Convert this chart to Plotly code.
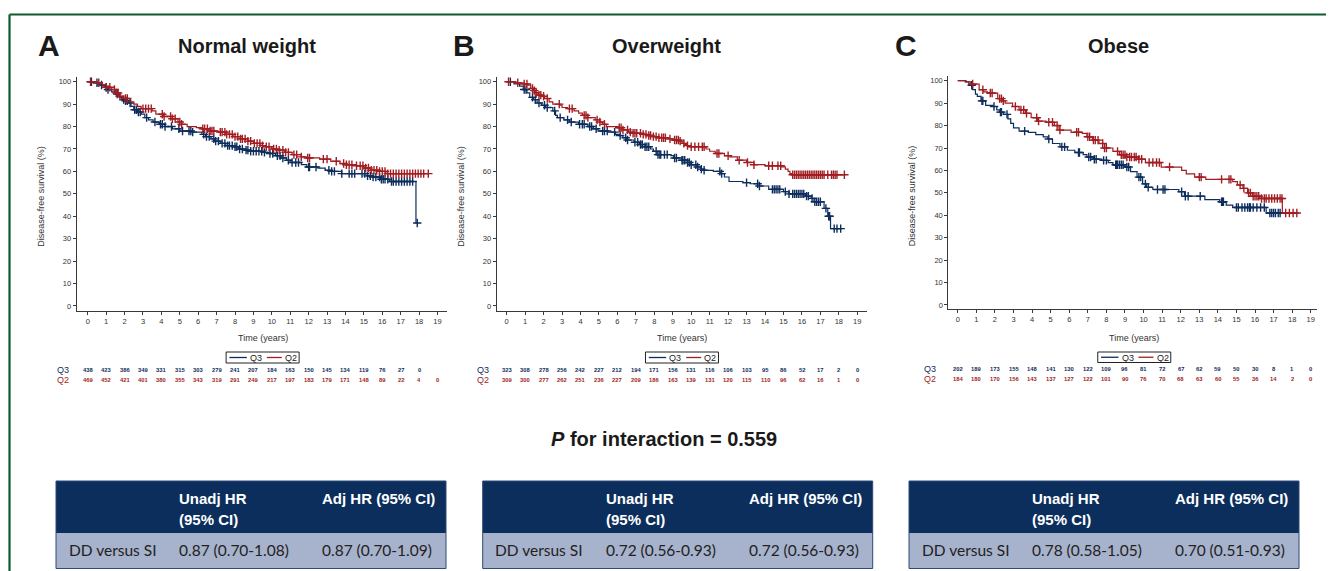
import plotly.graph_objects as go
import numpy as np

# page offset: the browser body has an 8px margin
OFF = 8
W, H = 1334 - OFF, 571 - OFF

# ---------------- DATA ----------------
years = list(range(0, 20))
panel_letters = ["A", "B", "C"]
panel_titles = ["Normal weight", "Overweight", "Obese"]
group_names = ["Q3", "Q2"]

# Panel A (Normal weight) - Kaplan-Meier step breakpoints
a_q3_t = [0, 0.3, 0.6, 0.9, 1.1, 1.3, 1.5, 1.7, 1.85, 2.0, 2.2, 2.35, 2.5, 2.7, 2.9, 3.1, 3.3, 3.55, 3.9, 4.2, 4.6, 5.0,
          5.7, 6.2, 6.4, 6.7, 6.9, 7.2, 7.5, 7.9, 8.2, 8.5, 8.8, 9.5, 9.9, 10.2, 10.5, 10.8, 11.0, 11.6, 11.9, 12.5,
          12.9, 13.2, 13.8, 15.2, 15.5, 15.9, 16.4, 17.83]
a_q3_s = [100, 99.5, 98.5, 97.5, 96.5, 95.5, 94.5, 93, 92, 91.5, 90.5, 89, 87.5, 86.5, 85.5, 84, 83, 82, 81, 80, 79, 78,
          77.5, 76.5, 75.5, 74.5, 73.5, 72.5, 71.5, 71, 70, 69.5, 69, 68.5, 68, 67, 66, 65, 64, 63, 62, 61.5,
          60.5, 60, 59, 58, 57.5, 56.5, 55.5, 37]
a_q3_end = 17.95
a_q3_cens = [0.2, 0.5, 0.75, 1.0, 1.1, 1.6, 1.95, 2.05, 2.15, 2.3, 2.55, 2.65, 2.75, 2.85, 3.2, 3.65, 3.95, 4.05, 4.2,
             4.55, 4.95, 5.15, 5.5, 5.6, 5.7, 6.3, 6.45, 6.6, 6.85, 6.95, 7.1, 7.3, 7.45, 7.6, 7.7, 7.85, 8.0, 8.1,
             8.25, 8.4, 8.6, 8.7, 8.85, 9.0, 9.15, 9.3, 9.45, 9.6, 9.9, 10.05, 10.3, 10.45, 10.6, 10.9, 11.1, 11.3,
             11.45, 12.0, 12.05, 12.4, 13.1, 13.25, 13.4, 13.8, 14.2, 14.35, 14.5, 14.9, 15.05, 15.2, 15.35, 15.5,
             15.65, 15.85, 15.95, 16.05, 16.15, 16.3, 16.5, 16.6, 16.75, 16.9, 17.05, 17.2, 17.35, 17.5, 17.65, 17.9]

a_q2_t = [0, 0.5, 0.8, 1.0, 1.3, 1.5, 1.7, 1.9, 2.3, 2.5, 2.7, 2.9, 3.5, 3.7, 4.1, 4.6, 4.9, 5.1, 5.4, 5.9, 6.2, 6.6,
          7.1, 7.5, 7.9, 8.3, 8.7, 9.0, 9.4, 9.7, 10.0, 10.3, 10.7, 11.1, 11.6, 11.9, 12.6, 13.2, 13.7, 14.0, 14.6,
          15.0, 15.4, 15.8, 16.2]
a_q2_s = [100, 99.5, 98.5, 97.5, 96.5, 95, 93.5, 92.5, 91, 90, 89, 88, 87, 85.5, 84.5, 83.5, 82, 81, 80, 79.5, 79, 78,
          77.5, 76.5, 75.5, 74.5, 73.5, 72.5, 71.5, 71, 70, 69.5, 68.5, 67.5, 66.5, 66, 65.5, 64.5, 63.5, 63, 62.5,
          61.5, 60.5, 60, 59]
a_q2_end = 18.55
a_q2_cens = [0.15, 0.6, 1.0, 1.2, 1.45, 1.55, 1.65, 1.75, 2.05, 2.15, 3.0, 3.15, 3.3, 3.45, 4.05, 4.15, 4.5, 4.6, 4.75,
             5.0, 5.1, 6.25, 6.35, 6.5, 6.65, 6.75, 6.85, 7.2, 7.3, 7.45, 7.55, 7.7, 7.85, 8.0, 8.15, 8.3, 8.4, 8.55,
             8.7, 8.85, 9.05, 9.2, 9.35, 9.5, 9.7, 9.85, 10.1, 10.25, 10.4, 10.6, 10.75, 10.9, 11.2, 11.35, 11.6,
             11.95, 12.05, 12.8, 13.0, 13.5, 13.9, 14.05, 14.2, 14.35, 14.6, 14.8, 14.95, 15.1, 15.25, 15.4, 15.55,
             15.7, 15.85, 16.0, 16.15, 16.3, 16.45, 16.6, 16.75, 16.9, 17.05, 17.2, 17.35, 17.5, 17.65, 17.8, 17.95,
             18.1, 18.25, 18.5]

# Panel B (Overweight)
b_q3_t = [0, 0.4, 0.7, 0.9, 1.1, 1.25, 1.45, 1.65, 1.9, 2.1, 2.5, 2.65, 2.75, 3.1, 3.4, 3.9, 4.4, 4.7, 4.95, 5.5, 5.9,
          6.1, 6.3, 6.5, 6.9, 7.2, 7.5, 7.8, 7.95, 8.15, 8.9, 9.05, 9.5, 9.8, 10.0, 10.3, 10.5, 10.7, 11.2, 11.6,
          11.8, 12.05, 12.8, 13.2, 13.7, 14.2, 15.0, 15.3, 16.2, 16.5, 16.65, 17.2, 17.4, 17.55]
b_q3_s = [100, 99, 98, 96.5, 95, 93, 92, 90.5, 89.5, 88.5, 87, 85, 84, 83, 82, 81, 80, 79, 78, 77.5, 76.5,
          76, 75, 74, 73, 72, 71, 70, 69, 67.5, 67, 66, 65, 64, 63, 62, 61, 60.5, 60, 59,
          57.5, 55.5, 55, 54.5, 53.5, 52, 51, 50, 49, 48, 46.5, 43.5, 40, 34.5]
b_q3_end = 18.2
b_q3_cens = [0.2, 0.95, 1.05, 1.4, 1.55, 1.75, 2.05, 2.2, 2.6, 2.9, 3.3, 3.5, 3.95, 4.1, 4.2, 4.5, 4.6, 4.85, 5.2, 5.3,
             5.45, 5.85, 6.15, 6.45, 6.55, 6.95, 7.1, 7.25, 7.35, 7.5, 7.6, 7.7, 8.1, 8.2, 8.3, 8.35, 8.55, 8.7, 9.1,
             9.2, 9.5, 9.55, 9.65, 9.8, 9.9, 10.0, 10.25, 10.35, 10.55, 10.7, 11.55, 11.65, 13.0, 13.6, 13.7, 14.4,
             14.5, 14.6, 14.7, 14.8, 15.1, 15.3, 15.5, 15.6, 15.7, 15.8, 15.9, 16.0, 16.1, 16.25, 16.35, 16.55, 16.7,
             16.8, 16.9, 17.0, 17.3, 17.45, 17.5, 17.75, 17.9, 18.1]

b_q2_t = [0, 0.5, 0.9, 1.15, 1.3, 1.45, 1.55, 1.7, 1.9, 2.05, 2.3, 2.5, 2.9, 3.0, 3.3, 3.65, 3.9, 4.1, 4.4, 4.8, 5.05,
          5.2, 5.4, 6.05, 6.3, 6.6, 6.8, 7.3, 7.6, 7.9, 8.2, 8.7, 9.0, 9.35, 9.5, 9.65, 9.75, 9.9, 10.8, 11.0, 11.3,
          11.8, 12.1, 12.5, 13.0, 13.4, 14.0, 14.9, 15.1, 15.25, 15.35, 15.45]
b_q2_s = [100, 99.5, 99, 98.5, 97, 96, 95, 94, 93.5, 92.5, 91, 90, 89.5, 88.5, 88, 87, 86, 85, 84, 83, 82,
          81, 80, 79.5, 78.5, 77.5, 77, 76.5, 76, 75.5, 75, 74.5, 74, 73.5, 72.5, 72, 71.5, 71, 70, 69, 68,
          67, 66.5, 65, 64, 63, 62.5, 62, 61, 60, 59, 58.5]
b_q2_end = 18.35
b_q2_cens = [0.1, 0.6, 0.95, 1.1, 1.4, 1.5, 1.6, 1.75, 1.85, 2.0, 2.2, 2.85, 3.4, 3.55, 4.2, 4.3, 4.4, 4.9, 5.05, 5.3,
             6.1, 6.2, 6.3, 6.55, 6.7, 6.85, 6.95, 7.05, 7.25, 7.4, 7.55, 7.7, 7.8, 7.95, 8.1, 8.25, 8.4, 8.5, 8.6,
             8.85, 9.1, 9.2, 9.3, 9.4, 9.6, 9.8, 10.0, 10.2, 10.4, 10.6, 10.7, 11.4, 11.5, 12.0, 12.6, 13.05, 13.4,
             14.2, 14.4, 14.7, 14.85, 15.5, 15.6, 15.7, 15.8, 15.9, 16.0, 16.1, 16.2, 16.3, 16.4, 16.5, 16.6, 16.7,
             16.8, 16.9, 17.0, 17.1, 17.2, 17.4, 17.6, 17.7, 17.8, 17.9, 18.3]

# Panel C (Obese)
c_q3_t = [0, 0.4, 0.6, 0.8, 0.95, 1.05, 1.25, 1.5, 1.9, 2.1, 2.25, 2.45, 2.7, 2.85, 3.0, 3.3, 3.8, 4.2, 4.6, 4.85, 5.1,
          5.5, 5.9, 6.3, 6.75, 6.95, 7.3, 7.75, 8.1, 8.35, 9.0, 9.3, 9.65, 9.95, 10.15, 10.5, 11.9, 12.2, 13.3, 14.1,
          14.45, 14.8, 16.6]
c_q3_s = [100, 99.5, 98, 96, 94, 93, 91, 89, 88.5, 87, 86, 85, 83, 81, 79, 77.5, 77, 76, 75, 74, 72,
          70.5, 69, 68, 67, 66, 65, 64.5, 63.5, 62.5, 61.5, 59.5, 57, 54, 52.5, 51.5, 50.5, 48.5, 47, 46,
          44.5, 43.5, 41]
c_q3_end = 18.35
c_q3_cens = [0.75, 1.3, 1.35, 1.95, 2.3, 2.35, 2.65, 3.6, 4.9, 5.6, 5.75, 6.5, 6.55, 7.05, 7.15, 7.35, 7.45, 7.85, 8.0,
             8.5, 8.55, 8.6, 8.7, 8.8, 8.9, 9.1, 9.2, 9.75, 9.85, 10.1, 10.25, 10.75, 11.05, 11.15, 12.05, 12.25, 12.4,
             13.05, 14.2, 14.25, 14.3, 15.0, 15.1, 15.3, 15.45, 15.6, 15.7, 15.75, 15.9, 16.1, 16.3, 16.5, 16.8, 16.9,
             17.0, 17.1, 17.25, 17.35]

c_q2_t = [0, 0.45, 0.7, 1.15, 1.4, 1.6, 2.15, 2.4, 2.55, 2.95, 3.3, 3.65, 3.95, 4.3, 4.75, 5.2, 5.45, 6.1, 6.7, 6.95,
          7.25, 7.6, 7.9, 8.35, 8.7, 9.05, 9.7, 10.1, 10.95, 12.05, 12.3, 12.75, 13.35, 14.8, 15.05, 15.35, 15.6,
          15.85, 16.25, 17.47]
c_q2_s = [100, 99.5, 98.5, 96, 95, 94.5, 92, 91, 90, 88.5, 87, 85.5, 83.5, 82, 81.5, 80, 78, 77, 76.5, 75,
          73.5, 72, 70, 68.5, 67, 66, 65, 63.5, 61.5, 60, 58.5, 57, 56, 55, 53.5, 52, 50,
          48.5, 47.5, 41]
c_q2_end = 18.3
c_q2_cens = [0.8, 1.35, 1.75, 1.85, 2.25, 2.35, 2.45, 3.1, 3.4, 3.55, 3.7, 4.25, 4.35, 4.9, 5.1, 5.35, 5.5, 6.4, 6.5,
             7.0, 7.1, 7.3, 7.4, 7.55, 7.8, 7.9, 8.0, 8.6, 8.8, 8.9, 9.0, 9.1, 9.25, 9.35, 9.5, 9.6, 9.75, 9.9, 10.3,
             10.5, 10.7, 10.85, 11.4, 13.0, 13.1, 14.2, 14.6, 14.7, 15.2, 15.4, 15.65, 15.75, 15.9, 16.0, 16.1, 16.2,
             16.35, 16.5, 16.6, 16.75, 16.9, 17.05, 17.2, 17.35, 17.45, 17.65, 17.85, 18.05, 18.25]

# Numbers at risk (years 0..19)
risk_a_q3 = [438, 423, 386, 349, 331, 315, 303, 279, 241, 207, 184, 163, 150, 145, 134, 119, 76, 27, 0]
risk_a_q2 = [469, 452, 421, 401, 380, 355, 343, 319, 291, 249, 217, 197, 183, 179, 171, 148, 89, 22, 4, 0]
risk_b_q3 = [323, 308, 278, 256, 242, 227, 212, 194, 171, 156, 131, 116, 106, 103, 95, 86, 52, 17, 2, 0]
risk_b_q2 = [309, 300, 277, 262, 251, 236, 227, 209, 186, 163, 139, 131, 120, 115, 110, 96, 62, 16, 1, 0]
risk_c_q3 = [202, 189, 173, 155, 148, 141, 130, 122, 109, 96, 81, 72, 67, 62, 59, 50, 30, 8, 1, 0]
risk_c_q2 = [184, 180, 170, 156, 143, 137, 127, 122, 101, 90, 76, 70, 68, 63, 60, 55, 36, 14, 2, 0]

# Hazard ratio tables
hr_header = ["", "Unadj HR<br>(95% CI)", "Adj HR (95% CI)"]
hr_row_label = "DD versus SI"
hr_unadj = ["0.87 (0.70-1.08)", "0.72 (0.56-0.93)", "0.78 (0.58-1.05)"]
hr_adj = ["0.87 (0.70-1.09)", "0.72 (0.56-0.93)", "0.70 (0.51-0.93)"]
p_interaction = "0.559"

# ---------------- STYLE ----------------
NAVY = "#0d2d5c"
RED = "#a11d22"
AXC = "#3a3a3a"
HDR = "#0b2e5c"
ROW = "#a7b2cc"
GREEN = "#0f5a2d"


def pxx(x):
    return (x - OFF) / W


def pyy(y):
    return 1 - (y - OFF) / H


# panel geometry in page pixels (domain) and axis ranges
panels = [
    dict(xd=(76.7, 446.7), xr=(-0.6, 19.5), yd=(76.7, 310.7), yr=(-2.1, 102.23), leg_y=(352, 363),
         row_y=(370, 380), lab_x=63, tbl_x=56, letter_x=36),
    dict(xd=(496.7, 866.7), xr=(-0.54, 19.51), yd=(76.7, 310.7), yr=(-2.1, 102.23), leg_y=(352, 363),
         row_y=(370, 380), lab_x=483, tbl_x=482.7, letter_x=451),
    dict(xd=(948.3, 1316.7), xr=(-0.51, 19.32), yd=(76.0, 309.3), yr=(-1.92, 102.1), leg_y=(352, 362.5),
         row_y=(368.5, 378.5), lab_x=930, tbl_x=909, letter_x=893),
]

curves = [
    [(a_q3_t, a_q3_s, a_q3_end, a_q3_cens), (a_q2_t, a_q2_s, a_q2_end, a_q2_cens)],
    [(b_q3_t, b_q3_s, b_q3_end, b_q3_cens), (b_q2_t, b_q2_s, b_q2_end, b_q2_cens)],
    [(c_q3_t, c_q3_s, c_q3_end, c_q3_cens), (c_q2_t, c_q2_s, c_q2_end, c_q2_cens)],
]
risks = [(risk_a_q3, risk_a_q2), (risk_b_q3, risk_b_q2), (risk_c_q3, risk_c_q2)]
colors = [NAVY, RED]

fig = go.Figure()
annotations = []
shapes = []
layout_axes = {}


def step_value(t, s, x):
    idx = np.searchsorted(np.array(t), np.array(x), side="right") - 1
    return np.array(s)[idx]


def ann(text, x, y, size, color, family="Arial", xanchor="center", **kw):
    annotations.append(dict(text=text, x=pxx(x), y=pyy(y), xref="paper", yref="paper",
                            xanchor=xanchor, yanchor="middle", showarrow=False,
                            font=dict(family=family, size=size, color=color), **kw))


for i, p in enumerate(panels):
    sfx = "" if i == 0 else str(i + 1)
    xa, ya = "x" + sfx, "y" + sfx
    layout_axes["xaxis" + sfx] = dict(
        domain=[pxx(p["xd"][0]), pxx(p["xd"][1])], range=list(p["xr"]), anchor=ya,
        tickmode="array", tickvals=years, ticktext=[str(v) for v in years],
        ticks="outside", ticklen=3, tickwidth=1, tickcolor=AXC,
        showline=True, linecolor=AXC, linewidth=1, showgrid=False, zeroline=False,
        tickfont=dict(family="Arial", size=7.5, color="#333"), fixedrange=True)
    layout_axes["yaxis" + sfx] = dict(
        domain=[pyy(p["yd"][1]), pyy(p["yd"][0])], range=list(p["yr"]), anchor=xa,
        tickmode="array", tickvals=list(range(0, 101, 10)),
        ticks="outside", ticklen=3, tickwidth=1, tickcolor=AXC,
        showline=True, linecolor=AXC, linewidth=1, showgrid=False, zeroline=False,
        tickfont=dict(family="Arial", size=7.5, color="#333"), fixedrange=True)

    for g, (t, s, tend, cens) in enumerate(curves[i]):
        fig.add_trace(go.Scatter(
            x=list(t) + [tend], y=list(s) + [s[-1]], xaxis=xa, yaxis=ya,
            mode="lines", line=dict(color=colors[g], width=1.2, shape="hv"),
            showlegend=False, hoverinfo="skip"))
        fig.add_trace(go.Scatter(
            x=cens, y=step_value(t, s, cens), xaxis=xa, yaxis=ya, mode="markers",
            marker=dict(symbol="cross-thin", size=6, line=dict(color=colors[g], width=1.4)),
            showlegend=False, hoverinfo="skip"))

    x0, x1 = p["xd"]
    ppy = (x1 - x0) / (p["xr"][1] - p["xr"][0])

    def yr2px(v, x0=x0, ppy=ppy, p=p):
        return x0 + (v - p["xr"][0]) * ppy

    center_px = yr2px(9.5)

    # panel letter and title
    ann("<b>%s</b>" % panel_letters[i], p["letter_x"], 46, 30, "#1a1a1a", xanchor="left")
    ann("<b>%s</b>" % panel_titles[i], yr2px(8.65), 46, 20, "#1a1a1a")
    # axis titles
    ann("Disease-free survival (%)", x0 - 36, 196, 9, "#333", textangle=-90)
    ann("Time (years)", center_px, 337.5, 9, "#333")

    # legend box
    ly0, ly1 = p["leg_y"]
    lx0, lx1 = center_px - 36.5, center_px + 36.5
    shapes.append(dict(type="rect", xref="paper", yref="paper", x0=pxx(lx0), x1=pxx(lx1), y0=pyy(ly1), y1=pyy(ly0),
                       line=dict(color="#222", width=1), fillcolor="white"))
    lmid = (ly0 + ly1) / 2
    seg = [(3.3, 20.7, 22), (40.7, 55.7, 57)]
    for g in range(2):
        a0, a1, tx0 = seg[g]
        shapes.append(dict(type="line", xref="paper", yref="paper", x0=pxx(lx0 + a0), x1=pxx(lx0 + a1),
                           y0=pyy(lmid), y1=pyy(lmid), line=dict(color=colors[g], width=1.3)))
        ann(group_names[g], lx0 + tx0, lmid + 0.3, 9, "#222", xanchor="left")

    # numbers at risk
    for g in range(2):
        ry = p["row_y"][g]
        ann(group_names[g], p["lab_x"], ry, 9, colors[g])
        for k, v in enumerate(risks[i][g]):
            annotations.append(dict(text="<b>%d</b>" % v, x=years[k], y=pyy(ry), xref=xa, yref="paper",
                                    xanchor="center", yanchor="middle", showarrow=False,
                                    font=dict(family="Arial", size=5.8, color=colors[g])))

    # HR table
    tx = p["tbl_x"]
    tw = 390
    shapes.append(dict(type="rect", xref="paper", yref="paper", x0=pxx(tx), x1=pxx(tx + tw),
                       y0=pyy(533), y1=pyy(481), fillcolor=HDR, line=dict(width=0)))
    shapes.append(dict(type="rect", xref="paper", yref="paper", x0=pxx(tx), x1=pxx(tx + tw),
                       y0=pyy(568.5), y1=pyy(533), fillcolor=ROW, line=dict(width=0)))
    shapes.append(dict(type="rect", xref="paper", yref="paper", x0=pxx(tx), x1=pxx(tx + tw),
                       y0=pyy(568.5), y1=pyy(481), fillcolor="rgba(0,0,0,0)",
                       line=dict(color="#2c4a78", width=1)))
    ann("<b>Unadj HR</b>", tx + 121, 498.5, 15, "white", xanchor="left")
    ann("<b>(95% CI)</b>", tx + 121, 519, 15, "white", xanchor="left")
    ann("<b>%s</b>" % hr_header[2], tx + 264, 498.5, 15, "white", xanchor="left")
    ann(hr_row_label, tx + 10.5, 549.5, 15.5, "#222", family="Lato", xanchor="left")
    ann(hr_unadj[i], tx + 121, 549.5, 15.5, "#222", family="Lato", xanchor="left")
    ann(hr_adj[i], tx + 264, 549.5, 15.5, "#222", family="Lato", xanchor="left")

# P for interaction
ann("<b><i>P</i> for interaction = %s</b>" % p_interaction, 664, 439, 20, "#1a1a1a")

# green frame
shapes.append(dict(type="line", xref="paper", yref="paper", x0=pxx(9.5), x1=1, y0=pyy(14.5), y1=pyy(14.5),
                   line=dict(color=GREEN, width=2.2)))
shapes.append(dict(type="line", xref="paper", yref="paper", x0=pxx(9.5), x1=pxx(9.5), y0=pyy(14.5), y1=0,
                   line=dict(color=GREEN, width=2.2)))

fig.update_layout(
    width=W, height=H, margin=dict(l=0, r=0, t=0, b=0),
    paper_bgcolor="white", plot_bgcolor="white",
    annotations=annotations, shapes=shapes, showlegend=False,
    **layout_axes)

fig.write_html("out.html", config={"displayModeBar": False})
